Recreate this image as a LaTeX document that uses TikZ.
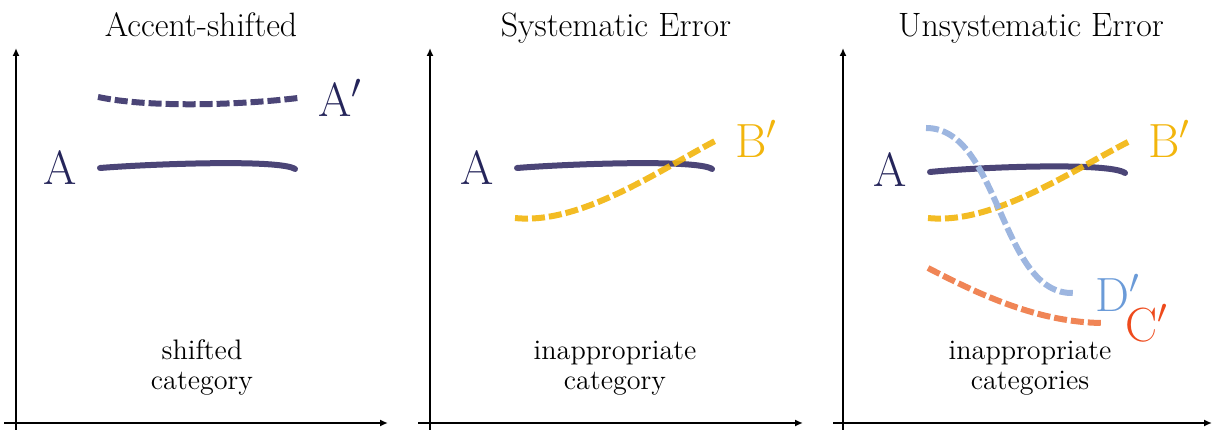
\documentclass[tikz,border=0pt]{standalone}
\usetikzlibrary{arrows.meta}
\definecolor{linepurple}{HTML}{4B4577}
\definecolor{labelnavy}{HTML}{25255A}
\definecolor{myyellow}{HTML}{F2B50C}
\definecolor{lineblue}{HTML}{9DB6E0}
\definecolor{textblue}{HTML}{6B9BD8}
\definecolor{lineorange}{HTML}{F08556}
\definecolor{textred}{HTML}{EE4A1C}
\tikzset{
  axis/.style={line width=0.8pt,-{Latex[length=4pt,width=3.5pt]}},
  solidcurve/.style={line width=3pt,line cap=round,draw=linepurple},
  dashcurve/.style={line width=3pt,dash pattern=on 6.5pt off 2pt},
  title/.style={inner sep=0pt,anchor=base,font=\fontsize{16.9}{20}\selectfont},
  caption/.style={inner sep=0pt,anchor=base,font=\fontsize{14.1}{17}\selectfont},
  biglabel/.style={inner sep=0pt,anchor=base west,font=\fontsize{24}{28}\selectfont},
}
\begin{document}
\begin{tikzpicture}[x=0.5pt,y=-0.5pt]
\useasboundingbox (0,0) rectangle (1213,431);
% ---------- axes ----------
\coordinate (o1b) at (16,430);  \coordinate (o1t) at (16,48);
\coordinate (o1l) at (4,423);   \coordinate (o1r) at (388,423);
\coordinate (o2b) at (430,430); \coordinate (o2t) at (430,48);
\coordinate (o2l) at (418,423); \coordinate (o2r) at (803,423);
\coordinate (o3b) at (843,430); \coordinate (o3t) at (843,48);
\coordinate (o3l) at (833,423); \coordinate (o3r) at (1212,423);
\draw[axis] (o1b) -- (o1t);
\draw[axis] (o1l) -- (o1r);
\draw[axis] (o2b) -- (o2t);
\draw[axis] (o2l) -- (o2r);
\draw[axis] (o3b) -- (o3t);
\draw[axis] (o3l) -- (o3r);
% ---------- titles ----------
\node[title] (t1) at (201,37) {Accent-shifted};
\node[title] (t2) at (616,37) {Systematic Error};
\node[title] (t3) at (1031,37) {Unsystematic Error};
% ---------- captions ----------
\node[caption] (c1a) at (202,360) {shifted};
\node[caption] (c1b) at (202,390) {category};
\node[caption] (c2a) at (615,360) {inappropriate};
\node[caption] (c2b) at (615,390) {category};
\node[caption] (c3a) at (1030,360) {inappropriate};
\node[caption] (c3b) at (1030,390) {categories};
% ---------- panel 1 ----------
\draw[dashcurve,draw=linepurple] (98,97) .. controls (150,108) and (240,105) .. (298,98);
\draw[solidcurve] (100,168) .. controls (150,164) and (280,159) .. (295,169);
\node[biglabel,text=labelnavy] (a1) at (43,185) {A};
\node[biglabel,text=labelnavy] (a1p) at (318,117) {A$'$};
% ---------- panel 2 ----------
\draw[solidcurve] (517,168) .. controls (567,164) and (697,159) .. (712,169);
\draw[dashcurve,draw=myyellow,draw opacity=0.9] (515,218) .. controls (580,225) and (660,170) .. (715,141);
\node[biglabel,text=labelnavy] (a2) at (460,185) {A};
\node[biglabel,text=myyellow] (b2) at (735,158) {B$'$};
% ---------- panel 3 ----------
\draw[solidcurve] (930,172) .. controls (980,167) and (1110,162) .. (1125,173);
\draw[dashcurve,draw=myyellow,draw opacity=0.9] (928,218) .. controls (993,225) and (1073,170) .. (1130,141);
\draw[dashcurve,draw=lineblue] (926,128) .. controls (1000,128) and (1000,295) .. (1073,293);
\draw[dashcurve,draw=lineorange] (928,268) .. controls (980,295) and (1040,323) .. (1104,323);
\node[biglabel,text=labelnavy] (a3) at (873,187) {A};
\node[biglabel,text=myyellow] (b3) at (1148,158) {B$'$};
\node[biglabel,text=textblue] (d3) at (1095,312) {D$'$};
\node[biglabel,text=textred] (c3) at (1125,342) {C$'$};
\end{tikzpicture}
\end{document}
